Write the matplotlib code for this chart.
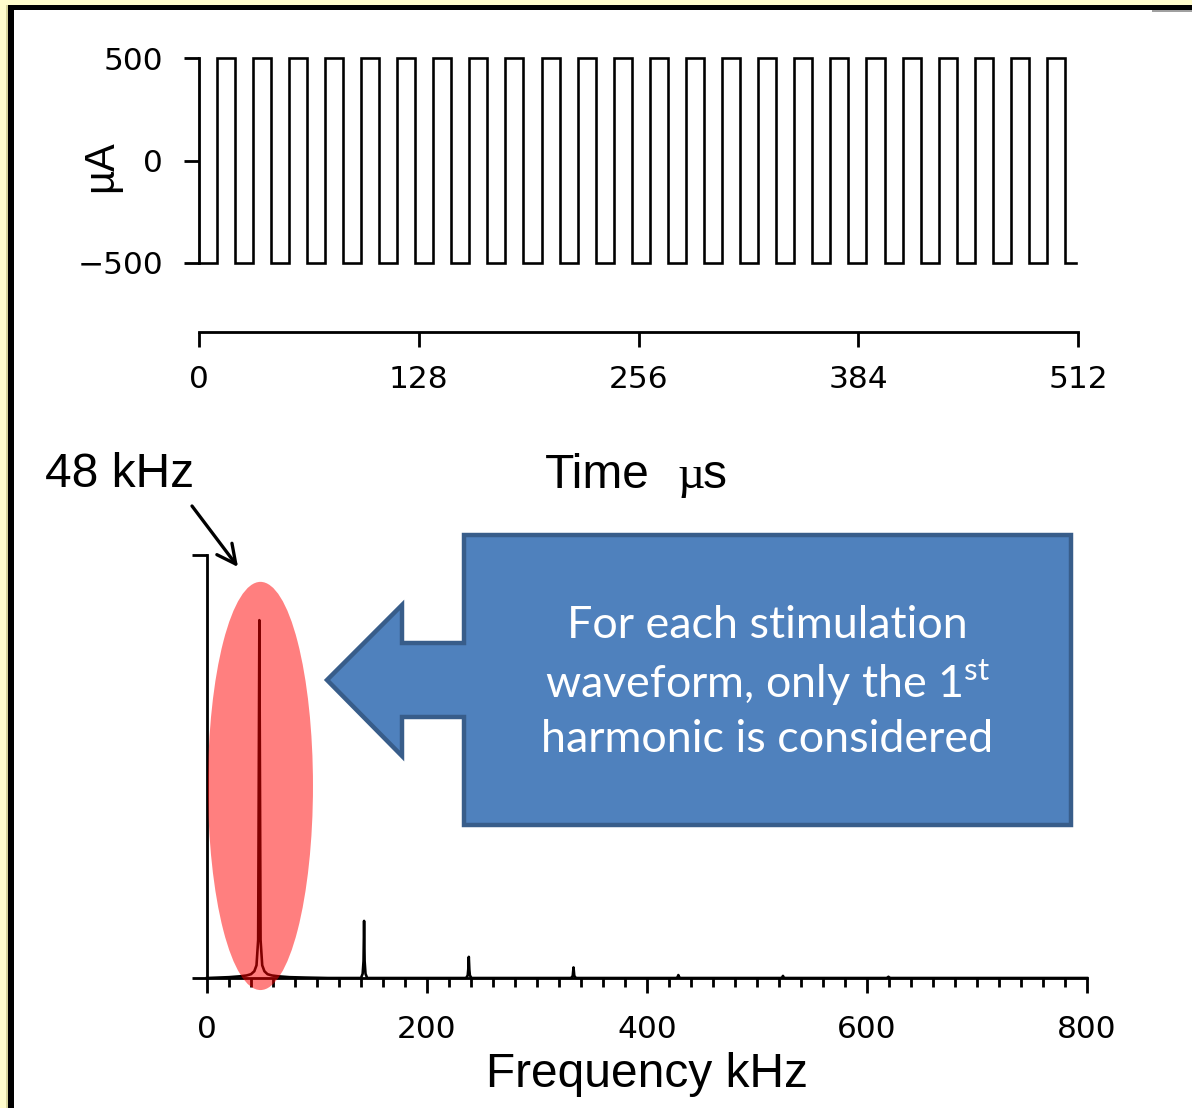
import matplotlib
matplotlib.use("Agg")
import matplotlib.pyplot as plt
from matplotlib.font_manager import FontProperties
from matplotlib.patches import Polygon, Rectangle, Ellipse
from matplotlib.ticker import FixedLocator, MultipleLocator

W, H = 1192, 1108

# ---- stimulation waveform: pulse edges in µs, current levels in µA ----
pulse_rise_us = [10.3, 31.3, 52.4, 73.4, 94.4, 115.5, 136.5, 157.5, 178.5, 199.6,
                 220.6, 241.6, 262.7, 283.7, 304.7, 325.8, 346.8, 367.8, 388.8,
                 409.9, 430.9, 451.9, 473.0, 494.0]
pulse_fall_us = [20.8, 41.8, 62.9, 83.9, 104.9, 126.0, 147.0, 168.0, 189.0, 210.1,
                 231.1, 252.1, 273.2, 294.2, 315.2, 336.3, 357.3, 378.3, 399.3,
                 420.4, 441.4, 462.4, 483.5, 504.5]
current_low_ua = -500
current_high_ua = 500
record_end_us = 511
time_ticks = [0, 128, 256, 384, 512]
current_ticks = [-500, 0, 500]
current_tick_labels = ['\u2212500', '0', '500']

# ---- magnitude spectrum (normalised) ----
spec_freq_khz = [0, 20, 30, 36, 40, 43, 45, 46.5, 47.6, 48.7, 50.2, 52.2, 55, 59, 65,
                 75, 90, 110,
                 140, 141.5, 142.3, 142.8, 143.3, 144.1, 145.6,
                 235.5, 237.0, 237.5, 238.0, 238.5, 239.0, 240.5,
                 331.0, 332.5, 333.2, 333.9, 335.4,
                 426.5, 427.8, 428.5, 429.2, 430.5,
                 521.5, 522.9, 523.6, 524.3, 525.7,
                 617.5, 618.8, 619.5, 620.2, 621.5,
                 800]
spec_mag = [0, 0.002, 0.004, 0.006, 0.009, 0.016, 0.03, 0.09, 0.846, 0.09, 0.03, 0.016,
            0.009, 0.006, 0.004, 0.002, 0.001, 0,
            0, 0.01, 0.04, 0.135, 0.04, 0.01, 0,
            0, 0.006, 0.02, 0.05, 0.02, 0.006, 0,
            0, 0.005, 0.025, 0.005, 0,
            0, 0.002, 0.007, 0.002, 0,
            0, 0.001, 0.005, 0.001, 0,
            0, 0.001, 0.003, 0.001, 0,
            0]
freq_ticks = [0, 200, 400, 600, 800]
first_harmonic_khz = 48

PX = 0.72  # points per pixel at 100 dpi

plt.rcParams['font.family'] = ['DejaVu Sans']
plt.rcParams['mathtext.fontset'] = 'custom'
plt.rcParams['mathtext.rm'] = 'Lato'

fig = plt.figure(figsize=(W / 100, H / 100), dpi=100)
fig.patch.set_facecolor('#FFFCCC')


def box(l, t, r, b):
    return [l / W, 1 - b / H, (r - l) / W, (b - t) / H]


# slide frame
bg = fig.add_axes([0, 0, 1, 1], zorder=0)
bg.set_xlim(0, W)
bg.set_ylim(H, 0)
bg.axis('off')
bg.add_patch(Rectangle((14, 10), W - 14, H - 10, fc='white', ec='none'))
bg.add_patch(Rectangle((6, 5), 2, H - 5, fc='#d8d49c', ec='none'))
bg.add_patch(Rectangle((8, 5), W - 8, 5, fc='black', ec='none'))
bg.add_patch(Rectangle((8, 5), 6, H - 5, fc='black', ec='none'))
bg.add_patch(Rectangle((1152, 10), 40, 1.5, fc='#a0a0a0', ec='none'))

tick_fp = FontProperties(family='DejaVu Sans', size=22.5)
LINE = 2.6 * PX
SPINE = 2.8 * PX

# ---- waveform panel ----
ax1 = fig.add_axes(box(199, 58, 1078, 263), zorder=2)
ax1.patch.set_visible(False)
wx, wy = [0], [current_low_ua]
for r, f in zip(pulse_rise_us, pulse_fall_us):
    wx += [r, r, f, f]
    wy += [current_low_ua, current_high_ua, current_high_ua, current_low_ua]
wx.append(record_end_us)
wy.append(current_low_ua)
ax1.plot(wx, wy, color='black', lw=LINE, clip_on=False, solid_joinstyle='miter')
ax1.set_xlim(0, 512)
ax1.set_ylim(-500, 500)
for s in ('top', 'right'):
    ax1.spines[s].set_visible(False)
ax1.spines['bottom'].set_position(('outward', 69 * PX))
for s in ('left', 'bottom'):
    ax1.spines[s].set_linewidth(SPINE)
ax1.xaxis.set_major_locator(FixedLocator(time_ticks))
ax1.yaxis.set_major_locator(FixedLocator(current_ticks))
ax1.set_yticklabels(current_tick_labels)
ax1.tick_params(axis='both', direction='out', length=15 * PX, width=SPINE)
ax1.tick_params(axis='y', pad=21 * PX)
ax1.tick_params(axis='x', pad=18 * PX)
for lab in ax1.get_xticklabels() + ax1.get_yticklabels():
    lab.set_fontproperties(tick_fp)

# ---- spectrum panel ----
ax2 = fig.add_axes(box(207, 555, 1087, 978), zorder=2)
ax2.patch.set_visible(False)
ax2.plot(spec_freq_khz, spec_mag, color='black', lw=LINE, clip_on=False)
ax2.set_xlim(0, 800)
ax2.set_ylim(0, 1)
for s in ('top', 'right'):
    ax2.spines[s].set_visible(False)
for s in ('left', 'bottom'):
    ax2.spines[s].set_linewidth(SPINE)
ax2.xaxis.set_major_locator(FixedLocator(freq_ticks))
ax2.xaxis.set_minor_locator(MultipleLocator(20))
ax2.yaxis.set_major_locator(FixedLocator([0, 1]))
ax2.set_yticklabels([])
ax2.tick_params(axis='both', which='major', direction='out', length=15 * PX, width=SPINE)
ax2.tick_params(axis='x', which='minor', direction='out', length=9 * PX, width=SPINE)
ax2.tick_params(axis='x', pad=22 * PX)
for lab in ax2.get_xticklabels():
    lab.set_fontproperties(tick_fp)

# highlight around the first harmonic
ax2.add_patch(Ellipse((48.6, 0.454), 95.5, 0.965, fc='red', ec='none', alpha=0.5,
                      zorder=5, clip_on=False))

# ---- annotations in pixel coordinates ----
fg = fig.add_axes([0, 0, 1, 1], zorder=10)
fg.set_xlim(0, W)
fg.set_ylim(H, 0)
fg.axis('off')

label_font = dict(family='Liberation Sans', size=34.5)
fg.text(45, 487, f'{first_harmonic_khz} kHz', va='baseline', ha='left', **label_font)
fg.text(545, 488, 'Time', va='baseline', ha='left', **label_font)
fg.text(677, 488, '\u00b5', va='baseline', ha='left', family='Liberation Serif', size=34)
fg.text(703, 488, 's', va='baseline', ha='left', **label_font)
fg.text(486, 1087, 'Frequency kHz', va='baseline', ha='left', **label_font)
fg.text(101, 166, '\u00b5A', rotation=90, ha='center', va='center',
        family='Liberation Sans', size=30)

fg.annotate('', xy=(238, 567), xytext=(192, 506),
            arrowprops=dict(arrowstyle='->', lw=3 * PX * 1.1, color='black',
                            mutation_scale=34, shrinkA=0, shrinkB=0))

callout = [(464, 535), (1071, 535), (1071, 825), (464, 825), (464, 717), (402, 717),
           (402, 756), (327, 680), (402, 605), (402, 643), (464, 643)]
fg.add_patch(Polygon(callout, closed=True, fc='#4F81BD', ec='#385D8A', lw=3.2,
                     joinstyle='miter'))
box_font = dict(family='Lato', size=32.3, color='white', ha='center', va='center')
fg.text(767, 625, 'For each stimulation', **box_font)
fg.text(768, 683, 'waveform, only the 1$^{\\mathrm{st}}$', **box_font)
fg.text(767, 739, 'harmonic is considered', **box_font)

fig.savefig('out.png', dpi=100, facecolor=fig.get_facecolor())
